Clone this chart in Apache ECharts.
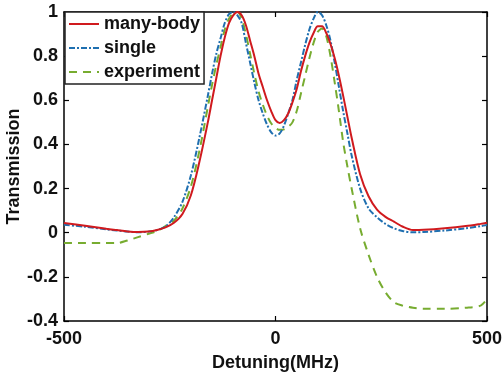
<!DOCTYPE html>
<html>
<head>
<meta charset="utf-8">
<script src="https://cdn.jsdelivr.net/npm/echarts@6/dist/echarts.min.js"></script>
<style>
  html, body { margin: 0; padding: 0; background: #fff; }
  #chart { width: 503px; height: 375px; }
</style>
</head>
<body>
<div id="chart"></div>
<script>
// 失谐 (MHz)
var detuning = [-500, -450, -400, -375, -350, -325, -300, -280, -260, -240, -220, -200, -180, -160,
  -150, -140, -130, -120, -110, -100, -90, -80, -70, -60, -50, -40, -30, -20, -10, 0, 10, 20, 30, 40, 50, 60, 70, 80, 90, 100, 110, 120, 130, 140, 150, 160, 170,
  180, 200, 220, 240, 260, 280, 300, 325, 350, 400, 450, 485, 500]
// many-body
var manyBody = [0.044, 0.032, 0.018, 0.012, 0.006, 0.003, 0.005, 0.012, 0.024, 0.045, 0.085, 0.17, 0.32, 0.5,
  0.6, 0.7, 0.8, 0.885, 0.95, 0.985, 1.0, 0.985, 0.94, 0.87, 0.8, 0.72, 0.66, 0.6, 0.55, 0.51, 0.497, 0.51, 0.54, 0.59, 0.65, 0.73, 0.8, 0.86, 0.905, 0.935, 0.935, 0.905, 0.855, 0.79, 0.71, 0.62, 0.525,
  0.43, 0.265, 0.165, 0.105, 0.072, 0.05, 0.028, 0.012, 0.013, 0.02, 0.03, 0.04, 0.045]
// single
var single = [0.036, 0.027, 0.015, 0.01, 0.005, 0.002, 0.005, 0.012, 0.028, 0.07, 0.14, 0.26, 0.43, 0.62,
  0.72, 0.81, 0.88, 0.95, 0.99, 1.0, 0.985, 0.95, 0.86, 0.77, 0.68, 0.6, 0.54, 0.49, 0.455, 0.44, 0.45, 0.485, 0.54, 0.6, 0.69, 0.77, 0.85, 0.92, 0.97, 1.0, 0.985, 0.94, 0.87, 0.77, 0.66, 0.55, 0.45,
  0.35, 0.2, 0.11, 0.07, 0.04, 0.02, 0.008, 0.002, 0.003, 0.01, 0.02, 0.03, 0.035]
// experiment
var experiment = [-0.047, -0.047, -0.047, -0.047, -0.035, -0.02, -0.005, 0.008, 0.03, 0.055, 0.11, 0.21, 0.37, 0.57,
  0.67, 0.76, 0.84, 0.92, 0.97, 0.995, 1.0, 0.97, 0.9, 0.81, 0.72, 0.64, 0.58, 0.53, 0.495, 0.475, 0.466, 0.468, 0.48, 0.5, 0.55, 0.63, 0.71, 0.79, 0.86, 0.91, 0.925, 0.89, 0.8, 0.68, 0.55, 0.41, 0.3,
  0.2, 0.02, -0.1, -0.2, -0.27, -0.315, -0.33, -0.34, -0.345, -0.345, -0.34, -0.33, -0.3]

var seriesNames = ['many-body', 'single', 'experiment']
var xTicks = [-500, 0, 500]
var yTicks = [-0.4, -0.2, 0, 0.2, 0.4, 0.6, 0.8, 1]

function pairs(ys) {
  var out = []
  for (var i = 0; i < detuning.length; i++) {
    out.push([detuning[i], ys[i]])
  }
  return out
}

var font = 'Liberation Sans, Arial, sans-serif'
var axisLine = { show: true, onZero: false, lineStyle: { color: '#000', width: 1.5 } }
var axisTick = { show: true, inside: true, length: 5, lineStyle: { color: '#000', width: 1.2 } }

var myChart = echarts.init(document.getElementById('chart'))
var option = {
  backgroundColor: '#fff',
  animation: false,
  grid: { left: 64, right: 16, top: 12, bottom: 54, containLabel: false, outerBoundsMode: 'none' },
  legend: {
    orient: 'vertical',
    left: 65,
    top: 12,
    data: seriesNames,
    itemWidth: 30,
    itemHeight: 14,
    itemGap: 6,
    padding: [3, 4, 3, 3],
    backgroundColor: '#fff',
    borderColor: '#222',
    borderWidth: 1.5,
    borderRadius: 0,
    itemStyle: { opacity: 0 },
    textStyle: { fontFamily: font, fontWeight: 'bold', fontSize: 18, color: '#111' }
  },
  xAxis: [
    {
      type: 'value',
      min: -500,
      max: 500,
      interval: 500,
      position: 'bottom',
      name: 'Detuning(MHz)',
      nameLocation: 'middle',
      nameGap: 33,
      nameMoveOverlap: false,
      nameTextStyle: { fontFamily: font, fontWeight: 'bold', fontSize: 18, color: '#111' },
      axisLine: axisLine,
      axisTick: axisTick,
      splitLine: { show: false },
      axisLabel: {
        margin: 9,
        fontFamily: font, fontWeight: 'bold', fontSize: 18, color: '#111',
        formatter: function(v) { return xTicks.indexOf(v) >= 0 ? String(v) : '' }
      }
    },
    {
      type: 'value',
      min: -500,
      max: 500,
      interval: 500,
      position: 'top',
      axisLine: axisLine,
      axisTick: axisTick,
      splitLine: { show: false },
      axisLabel: { show: false }
    }
  ],
  yAxis: [
    {
      type: 'value',
      min: -0.4,
      max: 1,
      interval: 0.2,
      position: 'left',
      name: 'Transmission',
      nameLocation: 'middle',
      nameGap: 41,
      nameMoveOverlap: false,
      nameTextStyle: { fontFamily: font, fontWeight: 'bold', fontSize: 18, color: '#111' },
      axisLine: axisLine,
      axisTick: axisTick,
      splitLine: { show: false },
      axisLabel: {
        margin: 6,
        fontFamily: font, fontWeight: 'bold', fontSize: 18, color: '#111',
        formatter: function(v) {
          var r = Math.round(v * 10) / 10
          return yTicks.indexOf(r) >= 0 ? String(r) : ''
        }
      }
    },
    {
      type: 'value',
      min: -0.4,
      max: 1,
      interval: 0.2,
      position: 'right',
      axisLine: axisLine,
      axisTick: axisTick,
      splitLine: { show: false },
      axisLabel: { show: false }
    }
  ],
  series: [
    {
      name: seriesNames[0],
      type: 'line',
      data: pairs(manyBody),
      smooth: 0.3,
      symbol: 'none',
      z: 3,
      itemStyle: { color: '#d01a1e' },
      lineStyle: { color: '#d01a1e', width: 2 }
    },
    {
      name: seriesNames[1],
      type: 'line',
      data: pairs(single),
      smooth: 0.3,
      symbol: 'none',
      z: 2,
      itemStyle: { color: '#1f6fb0' },
      lineStyle: { color: '#1f6fb0', width: 2, type: [6, 2, 2, 2] }
    },
    {
      name: seriesNames[2],
      type: 'line',
      data: pairs(experiment),
      smooth: 0.3,
      symbol: 'none',
      z: 1,
      itemStyle: { color: '#77ac30' },
      lineStyle: { color: '#77ac30', width: 2, type: [8, 6] }
    }
  ]
}
myChart.setOption(option)
</script>
</body>
</html>
